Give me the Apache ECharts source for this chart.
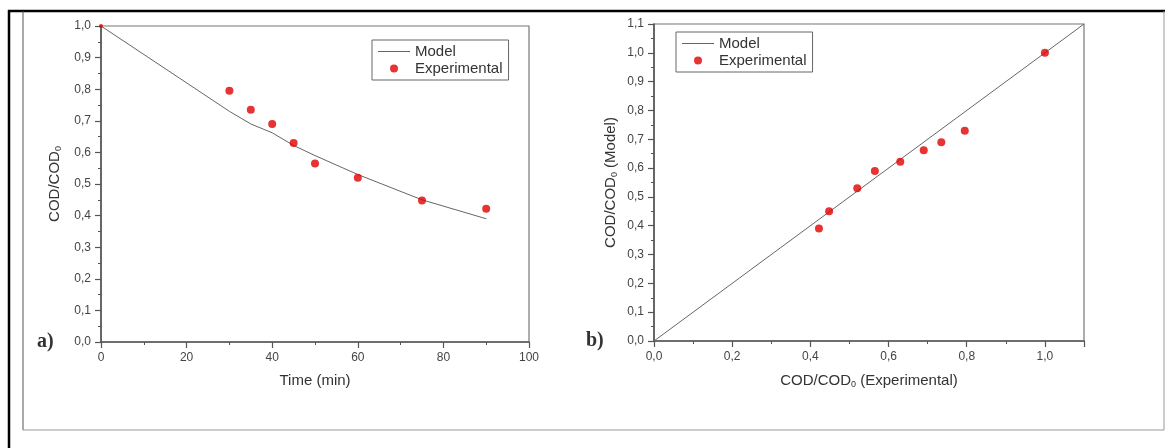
<!DOCTYPE html>
<html>
<head>
<meta charset="utf-8">
<script src="https://cdn.jsdelivr.net/npm/echarts@6/dist/echarts.min.js"></script>
<style>
html,body{margin:0;padding:0;background:#fff;}
#c{width:1165px;height:448px;}
</style>
</head>
<body>
<div id="c"></div>
<script>
// ---- data ----
var timeMin = [0, 30, 35, 40, 45, 50, 60, 75, 90];
var codExperimental = [1.0, 0.795, 0.735, 0.69, 0.63, 0.565, 0.52, 0.448, 0.422];
var codModel = [1.0, 0.73, 0.69, 0.662, 0.622, 0.59, 0.53, 0.45, 0.39];
var diagonal = [0, 1.1];
var seriesNames = ['Model', 'Experimental'];
var panelLabels = ['a)', 'b)'];

function comma(v) { return v.toFixed(1).replace('.', ','); }

var chart = echarts.init(document.getElementById('c'), null, {renderer: 'canvas'});

var FONT = 'Liberation Sans, Arial, sans-serif';
var AX = '#555';
var labelStyle = {color: '#444', fontSize: 12, fontFamily: FONT, margin: 10};
var subRich = {
  base: {fontSize: 15, fontFamily: FONT, color: '#333'},
  sub: {fontSize: 9, fontFamily: FONT, color: '#333', padding: [8, 0, 0, 0]}
};

function axisCommon(extra) {
  var o = {
    type: 'value',
    axisLine: {show: true, lineStyle: {color: AX, width: 1.6}},
    axisTick: {show: true, inside: false, length: 6, lineStyle: {color: AX, width: 1.2}},
    minorTick: {show: true, splitNumber: 2, length: 3, lineStyle: {color: AX, width: 1}},
    splitLine: {show: false},
    minorSplitLine: {show: false},
    axisLabel: Object.assign({}, labelStyle),
    nameLocation: 'middle',
    nameTextStyle: {fontSize: 15, fontFamily: FONT, color: '#333', rich: subRich}
  };
  return Object.assign(o, extra);
}

var expPairs = timeMin.map(function (t, i) { return [t, codExperimental[i]]; });
var modelPairs = timeMin.map(function (t, i) { return [t, codModel[i]]; });
var parityPairs = codExperimental.map(function (e, i) { return [e, codModel[i]]; });
var diagPairs = diagonal.map(function (d) { return [d, d]; });

var RED = '#e00000';
var LINE = '#666';

var legendData = [
  {name: seriesNames[0], icon: 'path://M0,0H32V1H0Z', symbolKeepAspect: true},
  {name: seriesNames[1], icon: 'circle'}
];
function legendAt(left, top) {
  return {left: left, top: top, orient: 'vertical', data: legendData, itemWidth: 32, itemHeight: 8, itemGap: 0,
    padding: [3, 6, 3, 6], borderColor: '#666', borderWidth: 1, selectedMode: false,
    textStyle: {fontSize: 15, fontFamily: FONT, color: '#333', lineHeight: 17}};
}

var option = {
  animation: false,
  backgroundColor: '#fff',
  grid: [
    {left: 101, top: 26, right: 636, bottom: 106, show: true, borderColor: '#777', borderWidth: 1.2, backgroundColor: 'transparent'},
    {left: 654, top: 24, right: 81, bottom: 107, show: true, borderColor: '#777', borderWidth: 1.2, backgroundColor: 'transparent'}
  ],
  xAxis: [
    axisCommon({gridIndex: 0, min: 0, max: 100, interval: 20,
      axisLabel: Object.assign({}, labelStyle, {formatter: function (v) { return String(v); }}),
      name: 'Time (min)', nameGap: 31}),
    axisCommon({gridIndex: 1, min: 0, max: 1.1, interval: 0.2,
      axisLabel: Object.assign({}, labelStyle, {formatter: comma, showMaxLabel: false}),
      name: '{base|COD/COD}{sub|0}{base| (Experimental)}', nameGap: 31})
  ],
  yAxis: [
    axisCommon({gridIndex: 0, min: 0, max: 1.0, interval: 0.1,
      axisLabel: Object.assign({}, labelStyle, {formatter: comma}),
      name: '{base|COD/COD}{sub|0}', nameGap: 38}),
    axisCommon({gridIndex: 1, min: 0, max: 1.1, interval: 0.1,
      axisLabel: Object.assign({}, labelStyle, {formatter: comma}),
      name: '{base|COD/COD}{sub|0}{base| (Model)}', nameGap: 35})
  ],
  legend: [legendAt(372, 40), legendAt(676, 32)],
  series: [
    {name: seriesNames[0], type: 'line', xAxisIndex: 0, yAxisIndex: 0, data: modelPairs,
      symbol: 'none', lineStyle: {color: LINE, width: 1}, itemStyle: {color: LINE}, z: 2},
    {name: seriesNames[1], type: 'scatter', xAxisIndex: 0, yAxisIndex: 0,
      data: expPairs.map(function (p, i) { return i === 0 ? {value: p, symbolSize: 4} : p; }),
      symbol: 'circle', symbolSize: 8, itemStyle: {color: RED}, z: 3},
    {name: seriesNames[0], type: 'line', xAxisIndex: 1, yAxisIndex: 1, data: diagPairs,
      symbol: 'none', lineStyle: {color: LINE, width: 1}, itemStyle: {color: LINE}, z: 2},
    {name: seriesNames[1], type: 'scatter', xAxisIndex: 1, yAxisIndex: 1, data: parityPairs,
      symbol: 'circle', symbolSize: 8, itemStyle: {color: RED}, z: 3}
  ],
  graphic: [
    // outer page frame
    {type: 'line', shape: {x1: 9, y1: 10, x2: 9, y2: 448}, style: {stroke: '#000', lineWidth: 2.5}},
    {type: 'line', shape: {x1: 8, y1: 11, x2: 1165, y2: 11}, style: {stroke: '#000', lineWidth: 2.5}},
    {type: 'line', shape: {x1: 23, y1: 11, x2: 23, y2: 430}, style: {stroke: '#555', lineWidth: 1}},
    {type: 'line', shape: {x1: 23, y1: 430, x2: 1164, y2: 430}, style: {stroke: '#999', lineWidth: 1}},
    {type: 'line', shape: {x1: 1164, y1: 11, x2: 1164, y2: 430}, style: {stroke: '#999', lineWidth: 1}},
    {type: 'text', left: 37, top: 332, style: {text: panelLabels[0], font: 'bold 20px "Liberation Serif", serif', fill: '#333'}},
    {type: 'text', left: 586, top: 331, style: {text: panelLabels[1], font: 'bold 20px "Liberation Serif", serif', fill: '#333'}}
  ]
};
chart.setOption(option);
</script>
</body>
</html>
